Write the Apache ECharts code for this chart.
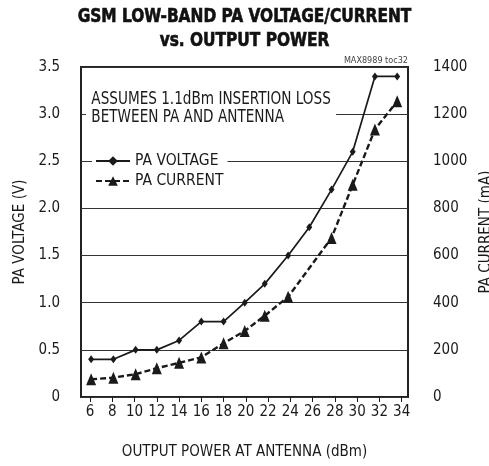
<!DOCTYPE html>
<html>
<head>
<meta charset="utf-8">
<script src="https://cdn.jsdelivr.net/npm/echarts@6/dist/echarts.min.js"></script>
<style>
  html, body { margin: 0; padding: 0; background: #fff; }
  #chart { width: 489px; height: 466px; }
</style>
</head>
<body>
<div id="chart"></div>
<script>
// Output power at the antenna (dBm) for each measurement
var powerV = [6.1, 8.1, 10.1, 12.0, 14.0, 16.0, 18.0, 19.9, 21.7, 23.8, 25.7, 27.7, 29.6, 31.6, 33.6];
// PA supply voltage (V)
var paVoltage = [0.4, 0.4, 0.5, 0.5, 0.6, 0.8, 0.8, 1.0, 1.2, 1.5, 1.8, 2.2, 2.6, 3.4, 3.4];
// Output power points where the PA current was measured (dBm)
var powerI = [6.1, 8.1, 10.1, 12.0, 14.0, 16.0, 18.0, 19.9, 21.7, 23.8, 27.7, 29.6, 31.6, 33.6];
// PA current (mA)
var paCurrent = [75, 82, 97, 122, 145, 168, 228, 280, 345, 425, 675, 900, 1135, 1255];
// Axis tick labels
var xTicks = [6, 8, 10, 12, 14, 16, 18, 20, 22, 24, 26, 28, 30, 32, 34];

var FONT = "'DejaVu Sans Condensed', 'Liberation Sans', sans-serif";
var INK = '#1a1a1a';

function pairs(xs, ys) {
  return xs.map(function (x, i) { return [x, ys[i]]; });
}

var chart = echarts.init(document.getElementById('chart'), null, { renderer: 'canvas' });

chart.setOption({
  animation: false,
  backgroundColor: '#fff',
  grid: {
    left: 81, right: 81, top: 67, bottom: 69,
    outerBoundsMode: 'none',
    containLabel: false,
    show: true, borderColor: '#222', borderWidth: 2, backgroundColor: 'transparent'
  },
  legend: {
    left: 92, top: 152,
    orient: 'vertical',
    itemWidth: 34, itemHeight: 12, itemGap: 4,
    padding: [1, 4, 1, 3],
    backgroundColor: '#fff',
    textStyle: { fontFamily: FONT, fontSize: 15.5, color: INK },
    data: ['PA VOLTAGE', 'PA CURRENT']
  },
  xAxis: {
    type: 'value',
    min: 5.19, max: 34.57,
    name: 'OUTPUT POWER AT ANTENNA (dBm)',
    nameLocation: 'middle', nameGap: 48,
    nameTextStyle: { fontFamily: FONT, fontSize: 15, color: INK },
    axisLine: { show: false },
    axisTick: { show: true, inside: false, length: 5, customValues: xTicks, lineStyle: { color: INK, width: 1 } },
    axisLabel: { customValues: xTicks, margin: 8, fontFamily: FONT, fontSize: 15, color: INK },
    splitLine: { show: false }
  },
  yAxis: [
    {
      type: 'value', min: 0, max: 3.5, interval: 0.5,
      name: 'PA VOLTAGE (V)',
      nameLocation: 'middle', nameGap: 50, nameRotate: 90,
      nameTextStyle: { fontFamily: FONT, fontSize: 15, color: INK },
      axisLine: { show: false }, axisTick: { show: false },
      axisLabel: {
        margin: 21, fontFamily: FONT, fontSize: 15, color: INK,
        formatter: function (v) { return v === 0 ? '0' : v.toFixed(1); }
      },
      splitLine: { show: true, lineStyle: { color: '#333', width: 1 } }
    },
    {
      type: 'value', min: 0, max: 1400, interval: 200,
      name: 'PA CURRENT (mA)',
      nameLocation: 'middle', nameGap: 64, nameRotate: 90,
      nameTextStyle: { fontFamily: FONT, fontSize: 15, color: INK },
      axisLine: { show: false }, axisTick: { show: false },
      axisLabel: {
        margin: 25, fontFamily: FONT, fontSize: 15, color: INK,
        formatter: function (v) { return String(v); }
      },
      splitLine: { show: false }
    }
  ],
  series: [
    {
      name: 'PA VOLTAGE',
      type: 'line',
      yAxisIndex: 0,
      data: pairs(powerV, paVoltage),
      symbol: 'diamond', symbolSize: [6, 8],
      lineStyle: { color: INK, width: 1.7, type: 'solid' },
      itemStyle: { color: INK },
      z: 3
    },
    {
      name: 'PA CURRENT',
      type: 'line',
      yAxisIndex: 1,
      data: pairs(powerI, paCurrent),
      symbol: 'triangle', symbolSize: [10, 12],
      lineStyle: { color: INK, width: 2.4, type: [6, 3] },
      itemStyle: { color: INK },
      z: 3
    }
  ],
  graphic: [
    // Two-line heading, set in a condensed heavy face
    {
      type: 'text', x: 244.5, y: 17, scaleX: 0.9,
      style: {
        text: 'GSM LOW-BAND PA VOLTAGE/CURRENT',
        font: 'bold 19px ' + FONT, fill: '#111',
        stroke: '#111', lineWidth: 0.6,
        align: 'center', verticalAlign: 'middle'
      }
    },
    {
      type: 'text', x: 244.5, y: 41, scaleX: 0.9,
      style: {
        text: 'vs. OUTPUT POWER',
        font: 'bold 19px ' + FONT, fill: '#111',
        stroke: '#111', lineWidth: 0.6,
        align: 'center', verticalAlign: 'middle'
      }
    },
    // Test-condition note inside the plot, masking the grid behind it
    {
      type: 'text', x: 86, y: 90.5, scaleX: 0.89, z: 2,
      style: {
        text: 'ASSUMES 1.1dBm INSERTION LOSS\nBETWEEN PA AND ANTENNA',
        font: '17px ' + FONT,
        fill: INK,
        lineHeight: 18,
        backgroundColor: '#fff',
        padding: [0, 6, 0, 6]
      }
    },
    {
      type: 'text', x: 408, y: 61,
      style: {
        text: 'MAX8989 toc32',
        font: '9px ' + FONT,
        fill: '#444',
        align: 'right', verticalAlign: 'middle'
      }
    }
  ]
});
</script>
</body>
</html>
